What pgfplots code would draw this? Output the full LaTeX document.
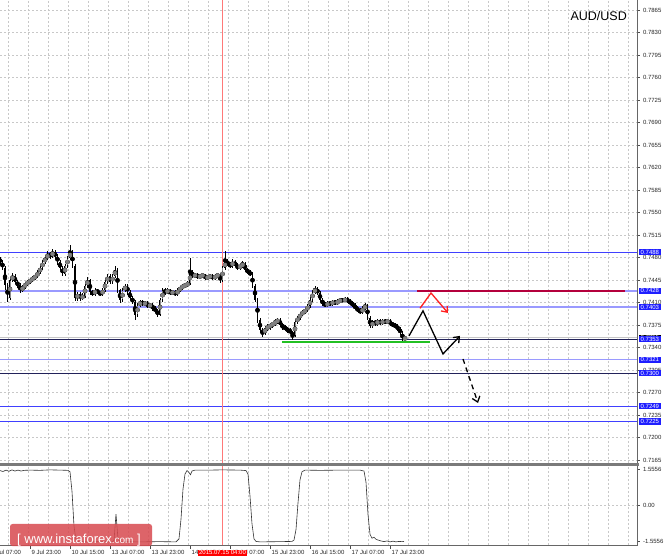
\documentclass[border=0pt]{standalone}
\usepackage{fontspec}
\setmainfont{Liberation Sans}
\usepackage{pgfplots}
\usepackage{pgfplotstable}
\pgfplotsset{compat=1.18}
\usetikzlibrary{arrows.meta}
\definecolor{gridgray}{HTML}{C8C8C8}
\definecolor{lvblue}{HTML}{4040FF}
\definecolor{lvlight}{HTML}{9A9AFF}
\definecolor{lvdark}{HTML}{22225A}
\definecolor{boxblue}{HTML}{1E1EFF}
\definecolor{crimson}{HTML}{B4003C}
\definecolor{sgreen}{HTML}{22C022}
\definecolor{arred}{HTML}{FF2020}
\definecolor{datered}{HTML}{FF0000}
\definecolor{wmred}{HTML}{D84A4F}
\definecolor{sepgray}{HTML}{7A7A7A}
\definecolor{vred}{HTML}{FF7878}
\newcommand\lab{\fontsize{6}{7}\selectfont}

\pgfplotstableread{
x o h l c
0 0.7478 0.7481 0.7469 0.7473
2.5 0.7473 0.7476 0.7460 0.7464
5 0.7464 0.7467 0.7429 0.7437
7.5 0.7437 0.7440 0.7411 0.7417
10 0.7417 0.7448 0.7414 0.7445
12.5 0.7445 0.7456 0.7442 0.7451
15 0.7451 0.7454 0.7438 0.7442
17.5 0.7442 0.7445 0.7433 0.7437
20 0.7437 0.7440 0.7425 0.7429
22.5 0.7429 0.7437 0.7426 0.7434
25 0.7434 0.7442 0.7431 0.7439
27.5 0.7439 0.7445 0.7436 0.7442
30 0.7442 0.7448 0.7439 0.7445
32.5 0.7445 0.7451 0.7442 0.7448
35 0.7448 0.7454 0.7445 0.7451
37.5 0.7451 0.7460 0.7448 0.7457
40 0.7457 0.7467 0.7454 0.7464
42.5 0.7464 0.7476 0.7461 0.7473
45 0.7473 0.7483 0.7470 0.7479
47.5 0.7479 0.7490 0.7476 0.7485
50 0.7485 0.7489 0.7478 0.7482
52.5 0.7482 0.7494 0.7479 0.7489
55 0.7489 0.7491 0.7478 0.7482
57.5 0.7482 0.7485 0.7469 0.7473
60 0.7473 0.7476 0.7460 0.7464
62.5 0.7464 0.7467 0.7451 0.7454
65 0.7454 0.7470 0.7451 0.7467
67.5 0.7467 0.7482 0.7464 0.7479
70 0.7479 0.7500 0.7476 0.7489
72.5 0.7489 0.7492 0.7463 0.7467
75 0.7467 0.7470 0.7412 0.7417
77.5 0.7417 0.7427 0.7412 0.7423
80 0.7423 0.7426 0.7413 0.7417
82.5 0.7417 0.7424 0.7414 0.7420
85 0.7420 0.7439 0.7417 0.7436
87.5 0.7436 0.7450 0.7433 0.7445
90 0.7445 0.7447 0.7422 0.7426
92.5 0.7426 0.7430 0.7420 0.7423
95 0.7423 0.7432 0.7420 0.7429
97.5 0.7429 0.7431 0.7423 0.7426
100 0.7426 0.7428 0.7420 0.7423
102.5 0.7423 0.7432 0.7420 0.7429
105 0.7429 0.7445 0.7426 0.7442
107.5 0.7442 0.7455 0.7439 0.7451
110 0.7451 0.7454 0.7438 0.7442
112.5 0.7442 0.7454 0.7439 0.7451
115 0.7451 0.7466 0.7448 0.7461
117.5 0.7461 0.7463 0.7425 0.7429
120 0.7429 0.7431 0.7409 0.7414
122.5 0.7414 0.7432 0.7411 0.7429
125 0.7429 0.7439 0.7426 0.7436
127.5 0.7436 0.7439 0.7422 0.7426
130 0.7426 0.7429 0.7414 0.7417
132.5 0.7417 0.7420 0.7407 0.7411
135 0.7411 0.7414 0.7383 0.7391
137.5 0.7391 0.7409 0.7388 0.7406
140 0.7406 0.7414 0.7403 0.7411
142.5 0.7411 0.7414 0.7404 0.7408
145 0.7408 0.7412 0.7405 0.7409
147.5 0.7409 0.7412 0.7401 0.7405
150 0.7405 0.7409 0.7402 0.7406
152.5 0.7406 0.7409 0.7397 0.7401
155 0.7401 0.7404 0.7394 0.7398
157.5 0.7398 0.7400 0.7388 0.7391
160 0.7391 0.7417 0.7389 0.7414
162.5 0.7414 0.7432 0.7411 0.7429
165 0.7429 0.7432 0.7422 0.7426
167.5 0.7426 0.7432 0.7423 0.7429
170 0.7429 0.7431 0.7421 0.7425
172.5 0.7425 0.7429 0.7422 0.7426
175 0.7426 0.7429 0.7420 0.7423
177.5 0.7423 0.7432 0.7420 0.7429
180 0.7429 0.7436 0.7426 0.7433
182.5 0.7433 0.7439 0.7430 0.7436
185 0.7436 0.7440 0.7433 0.7437
187.5 0.7437 0.7443 0.7434 0.7440
190 0.7440 0.7479 0.7437 0.7457
192.5 0.7457 0.7460 0.7448 0.7451
195 0.7451 0.7456 0.7448 0.7453
197.5 0.7453 0.7456 0.7447 0.7450
200 0.7450 0.7454 0.7447 0.7451
202.5 0.7451 0.7456 0.7448 0.7453
205 0.7453 0.7455 0.7445 0.7448
207.5 0.7448 0.7453 0.7445 0.7450
210 0.7450 0.7454 0.7447 0.7451
212.5 0.7451 0.7454 0.7445 0.7448
215 0.7448 0.7454 0.7445 0.7451
217.5 0.7451 0.7456 0.7448 0.7453
220 0.7453 0.7455 0.7440 0.7445
222.5 0.7445 0.7467 0.7442 0.7464
225 0.7464 0.7490 0.7461 0.7473
227.5 0.7473 0.7478 0.7466 0.7470
230 0.7470 0.7473 0.7463 0.7467
232.5 0.7467 0.7477 0.7464 0.7473
235 0.7473 0.7476 0.7465 0.7468
237.5 0.7468 0.7471 0.7460 0.7464
240 0.7464 0.7470 0.7461 0.7467
242.5 0.7467 0.7475 0.7464 0.7470
245 0.7470 0.7473 0.7458 0.7461
247.5 0.7461 0.7464 0.7454 0.7457
250 0.7457 0.7460 0.7451 0.7454
252.5 0.7454 0.7457 0.7432 0.7436
255 0.7436 0.7439 0.7410 0.7414
257.5 0.7414 0.7417 0.7378 0.7383
260 0.7383 0.7386 0.7363 0.7367
262.5 0.7367 0.7370 0.7356 0.7362
265 0.7362 0.7373 0.7359 0.7370
267.5 0.7370 0.7376 0.7366 0.7372
270 0.7372 0.7378 0.7368 0.7375
272.5 0.7375 0.7380 0.7371 0.7377
275 0.7377 0.7384 0.7374 0.7380
277.5 0.7380 0.7386 0.7377 0.7383
280 0.7383 0.7386 0.7372 0.7375
282.5 0.7375 0.7378 0.7368 0.7372
285 0.7372 0.7375 0.7366 0.7369
287.5 0.7369 0.7372 0.7363 0.7367
290 0.7367 0.7370 0.7361 0.7364
292.5 0.7364 0.7366 0.7351 0.7358
295 0.7358 0.7383 0.7356 0.7380
297.5 0.7380 0.7389 0.7377 0.7386
300 0.7386 0.7395 0.7383 0.7392
302.5 0.7392 0.7398 0.7389 0.7395
305 0.7395 0.7401 0.7392 0.7398
307.5 0.7398 0.7408 0.7395 0.7405
310 0.7405 0.7418 0.7402 0.7414
312.5 0.7414 0.7430 0.7411 0.7426
315 0.7426 0.7436 0.7423 0.7431
317.5 0.7431 0.7434 0.7421 0.7425
320 0.7425 0.7428 0.7411 0.7414
322.5 0.7414 0.7417 0.7405 0.7408
325 0.7408 0.7411 0.7403 0.7406
327.5 0.7406 0.7412 0.7403 0.7409
330 0.7409 0.7412 0.7405 0.7408
332.5 0.7408 0.7414 0.7405 0.7411
335 0.7411 0.7414 0.7406 0.7409
337.5 0.7409 0.7415 0.7406 0.7412
340 0.7412 0.7417 0.7409 0.7414
342.5 0.7414 0.7417 0.7410 0.7413
345 0.7413 0.7418 0.7410 0.7415
347.5 0.7415 0.7418 0.7409 0.7412
350 0.7412 0.7415 0.7406 0.7409
352.5 0.7409 0.7412 0.7403 0.7406
355 0.7406 0.7409 0.7398 0.7401
357.5 0.7401 0.7404 0.7395 0.7398
360 0.7398 0.7401 0.7392 0.7395
362.5 0.7395 0.7404 0.7392 0.7401
365 0.7401 0.7410 0.7398 0.7405
367.5 0.7405 0.7408 0.7383 0.7386
370 0.7386 0.7389 0.7370 0.7373
372.5 0.7373 0.7383 0.7370 0.7380
375 0.7380 0.7383 0.7374 0.7377
377.5 0.7377 0.7384 0.7374 0.7381
380 0.7381 0.7384 0.7375 0.7378
382.5 0.7378 0.7384 0.7375 0.7381
385 0.7381 0.7384 0.7376 0.7380
387.5 0.7380 0.7384 0.7377 0.7381
390 0.7381 0.7384 0.7374 0.7377
392.5 0.7377 0.7380 0.7372 0.7375
395 0.7375 0.7378 0.7370 0.7373
397.5 0.7373 0.7376 0.7366 0.7369
400 0.7369 0.7372 0.7360 0.7363
402.5 0.7363 0.7366 0.7349 0.7353
405 0.7353 0.7358 0.7351 0.7355
}\candles

\pgfplotstableread{
x v
0 1.50
3 1.46
6 1.52
9 1.47
12 1.53
15 1.48
18 1.52
21 1.48
24 1.51
30 1.52
40 1.51
50 1.53
60 1.52
68 1.51
70 1.45
72 0.60
74 -0.90
76 -1.50
78 -1.57
90 -1.58
100 -1.57
112 -1.58
114 -1.52
116 -0.38
118 -1.45
120 -1.57
140 -1.58
160 -1.57
176 -1.58
179 -1.45
181 -0.60
183 0.70
185 1.35
187 1.50
189 1.42
190.5 1.32
192 1.48
195 1.52
210 1.52
222 1.53
240 1.52
246 1.50
248 1.35
250 0.40
252 -0.80
254 -1.45
256 -1.56
260 -1.58
280 -1.57
292 -1.56
294 -1.50
296 -1.05
298 0.10
300 1.10
302 1.45
305 1.52
320 1.51
340 1.52
360 1.52
364 1.48
366 1.00
368 -0.40
370 -1.25
372 -1.42
374 -1.38
376 -1.47
378 -1.50
381 -1.54
384 -1.57
387 -1.54
390 -1.58
393 -1.55
396 -1.58
399 -1.56
402 -1.57
404 -1.56
}\osc

\begin{document}
\begin{tikzpicture}[x=1pt,y=1pt]
\useasboundingbox (0,0) rectangle (664,557);
\fill[white] (0,0) rectangle (664,557);
% ---------------- price panel
\begin{axis}[
  at={(0pt,94pt)}, anchor=south west, scale only axis,
  width=637pt, height=463pt,
  xmin=0, xmax=637, ymin=0.71603, ymax=0.78806,
  clip=false,
  axis line style={draw=none},
  xtick={8,28,...,628}, xticklabels={}, xticklabel style={opacity=0, text opacity=0}, major x tick style={draw=none},
  xmajorgrids, ymajorgrids,
  grid style={gridgray, dash pattern=on 2pt off 2pt, line width=0.5pt},
  ytick={0.7165,0.7200,0.7235,0.7270,0.7305,0.7340,0.7375,0.7410,0.7445,0.7480,0.7515,0.7550,0.7585,0.7620,0.7655,0.7690,0.7725,0.7760,0.7795,0.7830,0.7865},
  ytick pos=right, yticklabel pos=right, tick align=outside,
  major tick length=2.5pt, major y tick style={black!70, line width=0.5pt},
  scaled y ticks=false,
  yticklabel style={font=\lab, text=black!85, /pgf/number format/.cd, fixed, fixed zerofill, precision=4, assume math mode=true},
]
% level lines
\addplot[lvblue, line width=0.8pt] coordinates {(0,0.7488) (637,0.7488)};
\addplot[lvlight, line width=1.6pt] coordinates {(0,0.7428) (637,0.7428)};
\addplot[lvlight, line width=1.6pt] coordinates {(0,0.7403) (637,0.7403)};
\addplot[gray!45, line width=0.8pt] coordinates {(0,0.7355) (637,0.7355)};
\addplot[lvdark, line width=0.8pt] coordinates {(0,0.7353) (637,0.7353)};
\addplot[lvlight, line width=1.2pt] coordinates {(0,0.7321) (637,0.7321)};
\addplot[lvdark, line width=0.8pt] coordinates {(0,0.7300) (637,0.7300)};
\addplot[lvblue, line width=0.8pt] coordinates {(0,0.7249) (637,0.7249)};
\addplot[lvblue, line width=0.8pt] coordinates {(0,0.7225) (637,0.7225)};
\addplot[vred, line width=0.8pt] coordinates {(222,0.71603) (222,0.78806)};
% candles: wicks
\addplot[black, only marks, mark=none, error bars/.cd, y dir=both, y explicit, error mark=none, error bar style={black, line width=0.6pt}]
  table[x=x, y expr={(\thisrow{h}+\thisrow{l})/2}, y error expr={(\thisrow{h}-\thisrow{l})/2}] {\candles};
% bodies
\addplot[black, only marks, mark=none, error bars/.cd, y dir=both, y explicit, error mark=none, error bar style={black, line width=1.7pt}]
  table[x=x, y expr={(\thisrow{o}+\thisrow{c})/2}, y error expr={max(abs(\thisrow{o}-\thisrow{c})/2,0.00004)}] {\candles};
\addplot[gray, only marks, mark=none, x filter/.expression={\thisrow{c}>\thisrow{o} ? x : nan}, error bars/.cd, y dir=both, y explicit, error mark=none, error bar style={black!45, line width=0.6pt}]
  table[x=x, y expr={(\thisrow{o}+\thisrow{c})/2}, y error expr={max(abs(\thisrow{o}-\thisrow{c})/2-0.00008,0)}] {\candles};
% annotations
\addplot[sgreen, line width=1.8pt] coordinates {(282,0.73491) (430,0.73491)};
\addplot[crimson, line width=2.2pt] coordinates {(417,0.7428) (625,0.7428)};
\addplot[black, line width=1.3pt, -{Straight Barb[length=5pt,width=8pt]}] coordinates {(409,0.7358) (423,0.7397) (443,0.7330) (460,0.7358)};
\addplot[black, line width=1.3pt, dash pattern=on 5pt off 4pt, -{Straight Barb[length=5pt,width=8pt]}] coordinates {(463,0.73221) (478,0.72537)};
\addplot[arred, line width=1.3pt, -{Straight Barb[length=5pt,width=8pt]}] coordinates {(420,0.74010) (431,0.74248) (448,0.73937)};
\coordinate (b7488) at (axis cs:637,0.7488);
\coordinate (b7428) at (axis cs:637,0.7428);
\coordinate (b7403) at (axis cs:637,0.7403);
\coordinate (b7355) at (axis cs:637,0.7355);
\coordinate (b7353) at (axis cs:637,0.7353);
\coordinate (b7321) at (axis cs:637,0.7321);
\coordinate (b7300) at (axis cs:637,0.7300);
\coordinate (b7249) at (axis cs:637,0.7249);
\coordinate (b7225) at (axis cs:637,0.7225);
\end{axis}
% ---------------- indicator panel
\begin{axis}[
  at={(0pt,12pt)}, anchor=south west, scale only axis,
  width=637pt, height=80pt,
  xmin=0, xmax=637, ymin=-1.715, ymax=1.741,
  clip=false,
  axis line style={draw=none},
  xtick={8,28,...,628}, xticklabels={}, xticklabel style={opacity=0, text opacity=0}, major x tick style={draw=none},
  xmajorgrids,
  grid style={gridgray, dash pattern=on 2pt off 2pt, line width=0.5pt},
  ytick={-1.5556,0,1.5556}, yticklabels={-1.5556,0.00,1.5556},
  ytick pos=right, yticklabel pos=right, tick align=outside,
  major tick length=2.5pt, major y tick style={black!70, line width=0.5pt},
  yticklabel style={font=\lab, text=black!85},
]
\addplot[gridgray, dash pattern=on 2pt off 2pt, line width=0.5pt] coordinates {(0,0) (637,0)};
\addplot[vred, line width=0.8pt] coordinates {(222,-1.715) (222,1.741)};
\addplot[black!80, line width=0.6pt] table[x=x, y=v] {\osc};
\end{axis}
% time scale (axis x units equal pt here)
\foreach \xx/\tt in {-10/8 Jul 07:00, 30/9 Jul 23:00, 70/10 Jul 15:00, 110/13 Jul 07:00, 150/13 Jul 23:00, 190/14 Jul 15:00, 230/15 Jul 07:00, 270/15 Jul 23:00, 310/16 Jul 15:00, 350/17 Jul 07:00, 390/17 Jul 23:00} {
  \draw[black!70, line width=0.5pt] (\xx,12) -- (\xx,8.5);
  \node[anchor=base west, inner sep=0pt, font=\lab, text=black!85] at (\xx+1.5,2) {\tt};
}
% frame and separator
\draw[black!60, line width=0.8pt] (637.5,12) -- (637.5,557);
\draw[black!60, line width=0.6pt] (0,12) -- (637.5,12);
\draw[sepgray, line width=2.4pt] (0,92.5) -- (639,92.5);
% level boxes on the price scale
\foreach \nm/\tx/\col in {b7488/0.7488/boxblue, b7428/0.7428/boxblue, b7403/0.7403/boxblue, b7355/0.7355/black, b7353/0.7353/boxblue, b7321/0.7321/boxblue, b7300/0.7300/boxblue, b7249/0.7249/boxblue, b7225/0.7225/boxblue} {
  \node[fill=\col, text=white, font=\lab, inner xsep=2pt, inner ysep=1pt, anchor=west] at ([xshift=1.5pt]\nm) {\tx};
}
% date box
\node[fill=datered, text=white, font=\lab, inner xsep=1.3pt, inner ysep=1.2pt, anchor=base] at (222.5,2) {2015.07.15 04:00};
% title
\node[anchor=base east, inner sep=0pt, font=\fontsize{12.5}{14}\selectfont] at (627,536) {AUD/USD};
% watermark
\fill[wmred, opacity=0.85, rounded corners=2.5pt] (10,11) rectangle (152,33);
\node[anchor=base west, inner sep=0pt, text=white] at (17,14) {{\fontsize{13}{15}\selectfont[\ www.instaforex}{\fontsize{10}{12}\selectfont.com}{\fontsize{13}{15}\selectfont\ ]}};
\end{tikzpicture}
\end{document}
